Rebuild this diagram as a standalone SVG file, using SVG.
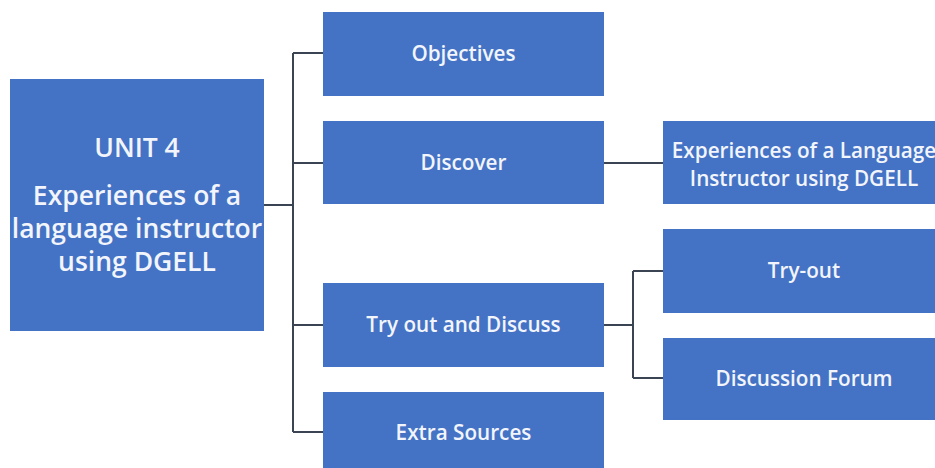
<svg xmlns="http://www.w3.org/2000/svg" width="935" height="468" viewBox="0 0 935 468">
<style>
.box{fill:#4472C4}
.t{font-family:"Open Sans","Liberation Sans",sans-serif;fill:#F2F5FB;text-anchor:middle;font-weight:600}
.s{font-size:20.7px}
.b{font-size:26.5px}
.ln{stroke:#3B4452;stroke-width:2;fill:none}
</style>
<rect width="935" height="468" fill="#FFFFFF"/>
<g id="connectors">
<path class="ln" d="M264 205H293M293 53V432M293 53H323M293 163H323M293 325H323M293 432H323"/>
<path class="ln" d="M604 163H663"/>
<path class="ln" d="M604 325H633M633 271V378M633 271H663M633 378H663"/>
</g>
<g id="root">
<rect class="box" x="10" y="79" width="254" height="252"/>
<text class="t b" x="137" y="157">UNIT 4</text>
<text class="t b" x="137" y="205">Experiences of a</text>
<text class="t b" x="137" y="238">language instructor</text>
<text class="t b" x="137" y="271">using DGELL</text>
</g>
<g id="objectives">
<rect class="box" x="323" y="12" width="281" height="84"/>
<text class="t s" x="463.5" y="61">Objectives</text>
</g>
<g id="discover">
<rect class="box" x="323" y="121" width="281" height="83"/>
<text class="t s" x="463.5" y="170">Discover</text>
</g>
<g id="tryout-discuss">
<rect class="box" x="323" y="283" width="281" height="84"/>
<text class="t s" x="463.5" y="332">Try out and Discuss</text>
</g>
<g id="extra-sources">
<rect class="box" x="323" y="392" width="281" height="84"/>
<text class="t s" x="463.5" y="440">Extra Sources</text>
</g>
<g id="experiences">
<rect class="box" x="663" y="121" width="282" height="83"/>
<text class="t s" x="804" y="158">Experiences of a Language</text>
<text class="t s" x="804" y="186">Instructor using DGELL</text>
</g>
<g id="try-out">
<rect class="box" x="663" y="229" width="282" height="84"/>
<text class="t s" x="804" y="278">Try-out</text>
</g>
<g id="discussion-forum">
<rect class="box" x="663" y="338" width="282" height="82"/>
<text class="t s" x="804" y="386">Discussion Forum</text>
</g>
</svg>
